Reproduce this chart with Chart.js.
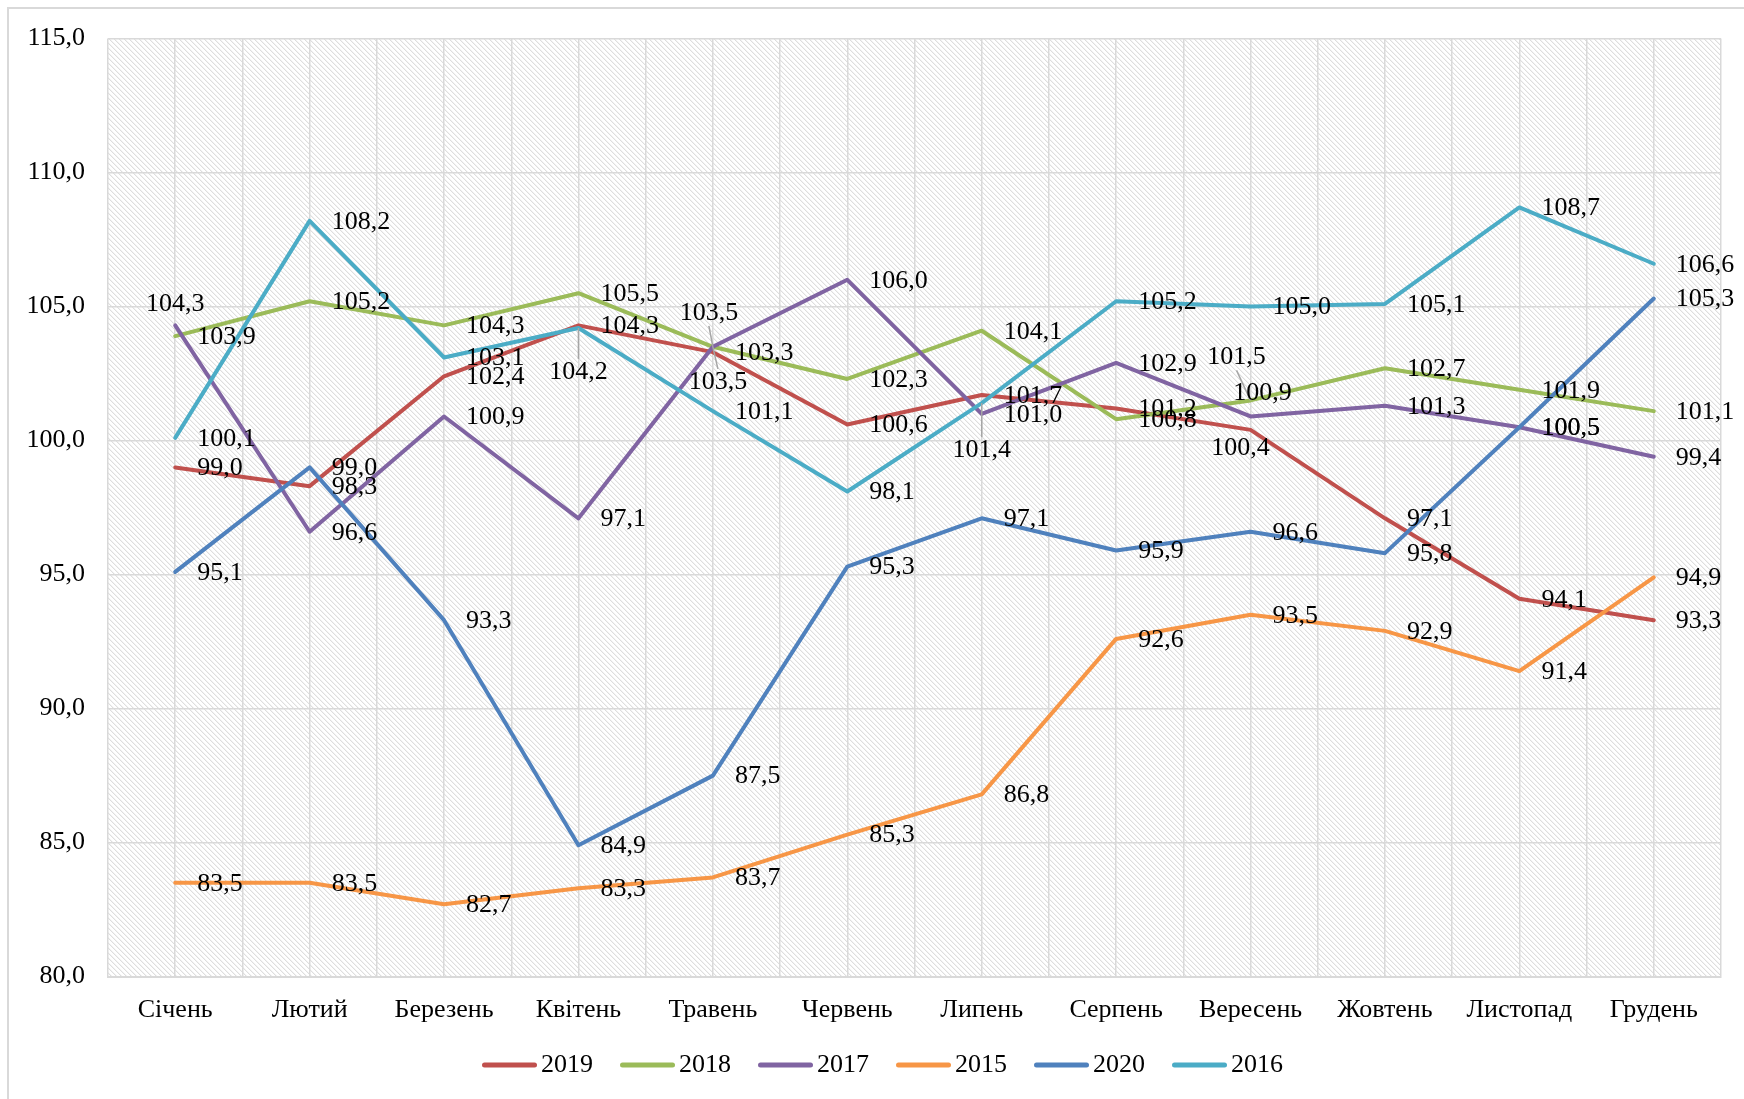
<!DOCTYPE html>
<html><head><meta charset="utf-8">
<script src="https://cdn.jsdelivr.net/npm/chart.js@4/dist/chart.umd.min.js"></script>
<style>html,body{margin:0;padding:0;background:#fff;} canvas{display:block;}</style>
</head><body>
<canvas id="c" width="1744" height="1099"></canvas>
<script>
const categories = ['Січень','Лютий','Березень','Квітень','Травень','Червень','Липень','Серпень','Вересень','Жовтень','Листопад','Грудень'];
const seriesNames = ['2019','2018','2017','2015','2020','2016'];
const values2019 = [99.0, 98.3, 102.4, 104.3, 103.3, 100.6, 101.7, 101.2, 100.4, 97.1, 94.1, 93.3];
const values2018 = [103.9, 105.2, 104.3, 105.5, 103.5, 102.3, 104.1, 100.8, 101.5, 102.7, 101.9, 101.1];
const values2017 = [104.3, 96.6, 100.9, 97.1, 103.5, 106.0, 101.0, 102.9, 100.9, 101.3, 100.5, 99.4];
const values2015 = [83.5, 83.5, 82.7, 83.3, 83.7, 85.3, 86.8, 92.6, 93.5, 92.9, 91.4, 94.9];
const values2020 = [95.1, 99.0, 93.3, 84.9, 87.5, 95.3, 97.1, 95.9, 96.6, 95.8, 100.5, 105.3];
const values2016 = [100.1, 108.2, 103.1, 104.2, 101.1, 98.1, 101.4, 105.2, 105.0, 105.1, 108.7, 106.6];
const yTicks = [80, 85, 90, 95, 100, 105, 110, 115];

const seriesValues = [values2019, values2018, values2017, values2015, values2020, values2016];
const seriesColors = ['#C0504D', '#9BBB59', '#8064A2', '#F79646', '#4F81BD', '#4BACC6'];

// label placement nudges (style): [dx, dy] of label centre relative to its point
const labelNudges = {
  '2:0': [0, -21], '0:8': [-10, 18], '1:4': [-4, -34], '2:4': [5, 35],
  '1:8': [-14, -43], '2:8': [12, -23], '5:3': [0, 44], '5:6': [0, 47]
};

const FONT = "'Liberation Serif', 'Times New Roman', serif";
Chart.defaults.font.family = FONT;
Chart.defaults.color = '#000';

const fmt = v => Number(v).toFixed(1).replace('.', ',');

function makeHatch() {
  const t = document.createElement('canvas');
  t.width = 5; t.height = 5;
  const c = t.getContext('2d');
  const img = c.createImageData(5, 5);
  for (let y = 0; y < 5; y++) for (let x = 0; x < 5; x++) {
    const k = (y * 5 + x) * 4;
    const d = (((x - y) % 5) + 5) % 5;
    const g = d === 0 ? 222 : (d === 1 ? 243 : 255);
    img.data[k] = g; img.data[k + 1] = g; img.data[k + 2] = g; img.data[k + 3] = 255;
  }
  c.putImageData(img, 0, 0);
  return t;
}

// legend swatch: a thick rounded line, drawn as an image so the text sits close to it
function makeSwatch(color) {
  const t = document.createElement('canvas');
  t.width = 110; t.height = 8;
  const c = t.getContext('2d');
  c.strokeStyle = color;
  c.lineWidth = 5;
  c.lineCap = 'round';
  c.beginPath();
  c.moveTo(32 + 2.5, 4);
  c.lineTo(87 - 2.5, 4);
  c.stroke();
  return t;
}

const bgPlugin = {
  id: 'bg',
  beforeDraw(chart) {
    const ctx = chart.ctx, a = chart.chartArea;
    ctx.save();
    ctx.fillStyle = '#fff';
    ctx.fillRect(0, 0, chart.width, chart.height);
    ctx.strokeStyle = '#D9D9D9';
    ctx.lineWidth = 2;
    ctx.beginPath();
    ctx.moveTo(8, chart.height); ctx.lineTo(8, 8); ctx.lineTo(chart.width, 8);
    ctx.stroke();
    ctx.fillStyle = ctx.createPattern(makeHatch(), 'repeat');
    ctx.fillRect(a.left, a.top, a.right - a.left, a.bottom - a.top);
    ctx.restore();
  }
};

const legendShift = {
  id: 'legendShift',
  afterLayout(chart) {
    if (chart.legend) { chart.legend.left += 22; chart.legend.right += 22; }
  }
};

const labelPlugin = {
  id: 'valueLabels',
  afterDatasetsDraw(chart) {
    const ctx = chart.ctx;
    ctx.save();
    ctx.font = '26px ' + FONT;
    ctx.fillStyle = '#000';
    ctx.textBaseline = 'middle';
    chart.data.datasets.forEach((ds, si) => {
      const meta = chart.getDatasetMeta(si);
      meta.data.forEach((pt, i) => {
        const txt = fmt(ds.data[i]);
        const nudge = labelNudges[si + ':' + i];
        if (nudge) {
          const lx = pt.x + nudge[0], ly = pt.y + nudge[1];
          if (Math.abs(nudge[1]) > 30) {
            ctx.save();
            ctx.strokeStyle = '#A6A6A6';
            ctx.lineWidth = 1.5;
            ctx.beginPath();
            const edge = nudge[1] > 0 ? ly - 13 : ly + 13;
            ctx.moveTo(lx, edge);
            ctx.lineTo(pt.x, pt.y);
            ctx.stroke();
            ctx.restore();
          }
          ctx.textAlign = 'center';
          ctx.fillText(txt, lx, ly);
        } else {
          ctx.textAlign = 'left';
          ctx.fillText(txt, pt.x + 22, pt.y + 1);
        }
      });
    });
    ctx.restore();
  }
};

const datasets = seriesNames.map((name, i) => ({
  label: name,
  data: seriesValues[i],
  borderColor: seriesColors[i],
  backgroundColor: seriesColors[i],
  borderWidth: 4,
  pointRadius: 0,
  pointHoverRadius: 0,
  pointStyle: makeSwatch(seriesColors[i]),
  tension: 0,
  fill: false,
  borderJoinStyle: 'round',
  borderCapStyle: 'round',
  order: seriesNames.length - i
}));

new Chart(document.getElementById('c'), {
  type: 'line',
  data: { labels: categories, datasets },
  options: {
    responsive: false,
    animation: false,
    devicePixelRatio: 1,
    layout: { padding: { left: 0, right: 23, top: 38, bottom: 11 } },
    plugins: {
      legend: {
        position: 'bottom',
        labels: {
          usePointStyle: true,
          pointStyleWidth: 46,
          padding: 27,
          color: '#000',
          font: { size: 26, family: FONT },
          sort: (a, b) => a.datasetIndex - b.datasetIndex
        }
      },
      tooltip: { enabled: false }
    },
    scales: {
      x: {
        type: 'category',
        offset: true,
        grid: { offset: true, color: '#D9D9D9', lineWidth: 1.5, drawTicks: false },
        border: { display: true, color: '#D9D9D9', width: 2 },
        ticks: { color: '#000', font: { size: 26 }, padding: 18, maxRotation: 0, autoSkip: false },
        afterFit(s) { s.height = 48.4; }
      },
      x2: {
        type: 'category',
        position: 'bottom',
        offset: true,
        grid: { offset: false, color: '#D9D9D9', lineWidth: 1.5, drawTicks: false },
        border: { display: false },
        ticks: { display: false },
        afterFit(s) { s.height = 0; }
      },
      y: {
        min: 80, max: 115,
        afterBuildTicks(s) { s.ticks = yTicks.map(v => ({ value: v })); },
        ticks: { color: '#000', font: { size: 26 }, padding: 23, callback: v => fmt(v) },
        grid: { color: '#D9D9D9', lineWidth: 1.5, drawTicks: false },
        border: { display: false },
        afterFit(s) { s.width = 108; }
      }
    }
  },
  plugins: [bgPlugin, legendShift, labelPlugin]
});
</script>
</body></html>
